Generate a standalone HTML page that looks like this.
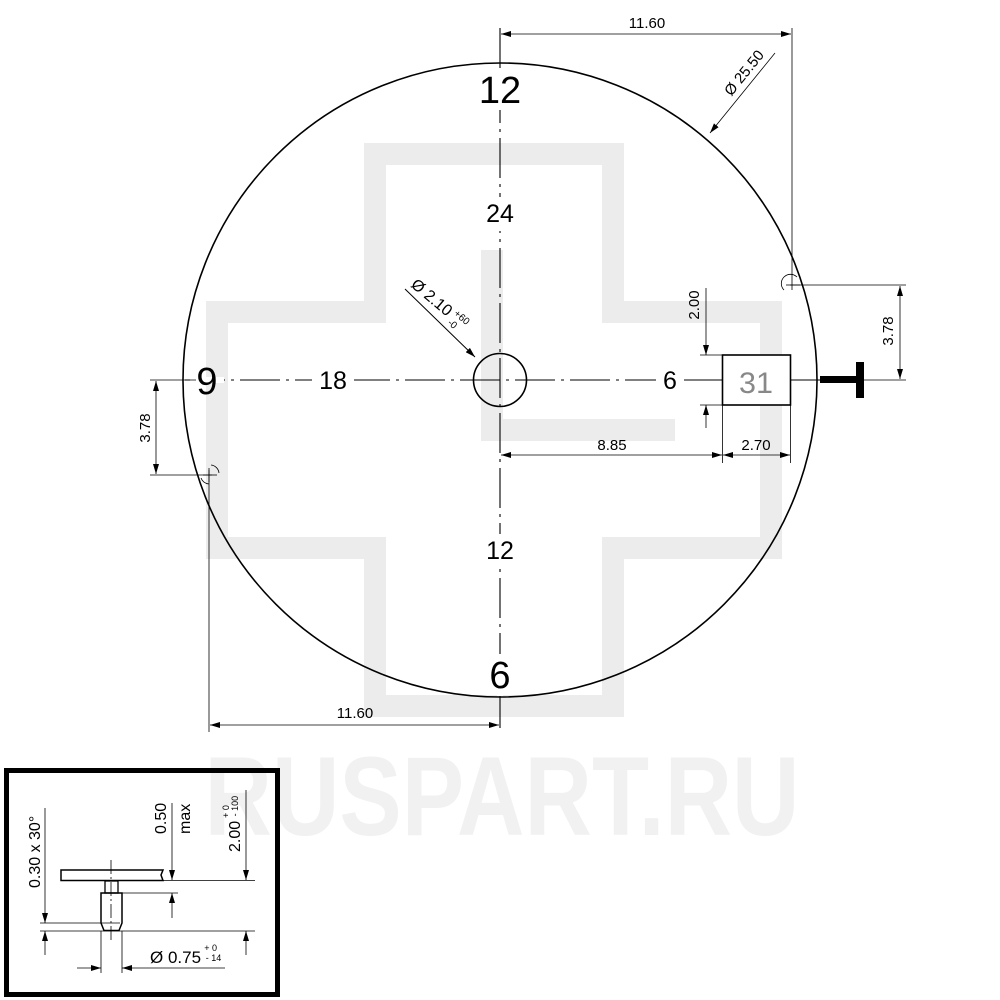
<!DOCTYPE html>
<html><head><meta charset="utf-8"><style>
html,body{margin:0;padding:0;background:#fff}
svg{display:block}
text{font-family:"Liberation Sans",Arial,sans-serif}
</style></head><body>
<svg width="1000" height="1000" viewBox="0 0 1000 1000" xmlns="http://www.w3.org/2000/svg">
<defs>
<marker id="a" viewBox="0 0 10 6" refX="10" refY="3" markerWidth="10" markerHeight="6" orient="auto-start-reverse" markerUnits="userSpaceOnUse"><path d="M0,0 L10,3 L0,6 z" fill="#000"/></marker>
</defs>
<!-- watermark -->
<g fill="none" stroke="#ececec" stroke-width="22">
<path d="M375,154 H613 V312 H771 V548 H613 V706 H375 V548 H217 V312 H375 Z"/>
<path d="M492,250 V430 H675"/>
</g>
<text x="502" y="835" font-size="112" font-weight="bold" fill="#f1f1f1" text-anchor="middle" textLength="595" lengthAdjust="spacingAndGlyphs">RUSPART.RU</text>

<!-- main circle -->
<circle cx="500" cy="380" r="317" fill="none" stroke="#000" stroke-width="1.6"/>
<!-- center lines -->
<g stroke="#000" stroke-width="1.1" stroke-dasharray="40,6,3,6">
<line x1="500" y1="28" x2="500" y2="732"/>
<line x1="185" y1="380" x2="722" y2="380"/>
</g>
<!-- label gaps (thin, only over the lines) -->
<g fill="#fff">
<rect x="497" y="70" width="6" height="40"/>
<rect x="497" y="197" width="6" height="34"/>
<rect x="497" y="534" width="6" height="34"/>
<rect x="497" y="654" width="6" height="42"/>
<rect x="190" y="377" width="34" height="6"/>
<rect x="312" y="377" width="42" height="6"/>
<rect x="656" y="377" width="28" height="6"/>
</g>
<g fill="#000" text-anchor="middle">
<text x="500" y="103" font-size="38">12</text>
<text x="500" y="222" font-size="25">24</text>
<text x="500" y="559" font-size="25">12</text>
<text x="500" y="688" font-size="38">6</text>
<text x="207" y="394" font-size="38">9</text>
<text x="333" y="389" font-size="25">18</text>
<text x="670" y="389" font-size="25">6</text>
</g>
<circle cx="500" cy="380" r="26.5" fill="none" stroke="#000" stroke-width="1.6"/>
<!-- hole leader -->
<line x1="405" y1="289" x2="475" y2="357" stroke="#000" stroke-width="1" marker-end="url(#a)"/>
<text transform="translate(410,286) rotate(40)" font-size="16">Ø 2.10 <tspan font-size="10" dy="5">-0</tspan><tspan font-size="10" dx="-10" dy="-11">+60</tspan></text>

<!-- 31 box -->
<rect x="722.5" y="355" width="68" height="50" fill="#fff" stroke="#000" stroke-width="1.6"/>
<text x="756" y="393" font-size="30" fill="#888" text-anchor="middle" textLength="34" lengthAdjust="spacingAndGlyphs">31</text>
<line x1="705" y1="380" x2="722" y2="380" stroke="#000" stroke-width="1"/>
<line x1="791" y1="380" x2="820" y2="380" stroke="#000" stroke-width="1"/>
<rect x="820" y="376" width="40" height="7" fill="#000"/>
<rect x="856" y="362" width="8" height="36" fill="#000"/>

<!-- dims -->
<g stroke="#000" stroke-width="0.8" fill="none">
<line x1="500" y1="28" x2="500" y2="40"/>
<line x1="792" y1="28" x2="792" y2="290"/>
<line x1="501" y1="34" x2="791" y2="34" marker-start="url(#a)" marker-end="url(#a)"/>
<line x1="775" y1="53" x2="710" y2="133" marker-end="url(#a)"/>
<line x1="790" y1="285" x2="906" y2="285"/>
<line x1="864" y1="380" x2="906" y2="380"/>
<line x1="900" y1="286" x2="900" y2="379" marker-start="url(#a)" marker-end="url(#a)"/>
<line x1="700" y1="355" x2="722" y2="355"/>
<line x1="700" y1="405" x2="722" y2="405"/>
<line x1="706" y1="288" x2="706" y2="355" marker-end="url(#a)"/>
<line x1="706" y1="428" x2="706" y2="405" marker-end="url(#a)"/>
<line x1="722.5" y1="405" x2="722.5" y2="463"/>
<line x1="790.5" y1="405" x2="790.5" y2="463"/>
<line x1="501" y1="455" x2="722" y2="455" marker-start="url(#a)" marker-end="url(#a)"/>
<line x1="723" y1="455" x2="790" y2="455" marker-start="url(#a)" marker-end="url(#a)"/>
<line x1="150" y1="380" x2="196" y2="380"/>
<line x1="150" y1="475" x2="212" y2="475"/>
<line x1="156" y1="381" x2="156" y2="474" marker-start="url(#a)" marker-end="url(#a)"/>
<line x1="209" y1="470" x2="209" y2="732"/>
<line x1="210" y1="725" x2="499" y2="725" marker-start="url(#a)" marker-end="url(#a)"/>
<path d="M784,290 A9,9 0 0 1 797,277"/>
<line x1="786" y1="285" x2="800" y2="285"/>
<path d="M219,473 A9,9 0 0 0 211,465"/>
<path d="M201,478 A9,9 0 0 0 209,484"/>
<line x1="203" y1="475" x2="217" y2="475"/>
<line x1="209" y1="468" x2="209" y2="482"/>
</g>
<g font-size="15" fill="#000" text-anchor="middle">
<text x="647" y="28">11.60</text>
<text transform="translate(748,76) rotate(-51)">Ø 25.50</text>
<text transform="translate(893,331) rotate(-90)">3.78</text>
<text transform="translate(699,305) rotate(-90)">2.00</text>
<text x="612" y="450">8.85</text>
<text x="756" y="450">2.70</text>
<text transform="translate(150,428) rotate(-90)">3.78</text>
<text x="355" y="718">11.60</text>
</g>

<!-- detail box -->
<rect x="6.5" y="770.5" width="271" height="224" fill="none" stroke="#000" stroke-width="5"/>
<g stroke="#000" fill="none">
<path d="M61,870 H163 L161,875 L163,880.5 H61 Z" stroke-width="1.5"/>
<rect x="105" y="881" width="13" height="12" stroke-width="1.3"/>
<path d="M101,893 H122 V923 L119,930.5 H104 L101,923 Z" stroke-width="1.5"/>
<line x1="111" y1="860" x2="111" y2="940" stroke-width="0.8" stroke-dasharray="14,3,2,3"/>
<g stroke-width="0.8">
<line x1="40" y1="923" x2="120" y2="923"/>
<line x1="40" y1="931" x2="255" y2="931"/>
<line x1="163" y1="880.5" x2="255" y2="880.5"/>
<line x1="118" y1="893" x2="178" y2="893"/>
<line x1="45" y1="808" x2="45" y2="923" marker-end="url(#a)"/>
<line x1="45" y1="955" x2="45" y2="931" marker-end="url(#a)"/>
<line x1="172" y1="803" x2="172" y2="880" marker-end="url(#a)"/>
<line x1="172" y1="918" x2="172" y2="893" marker-end="url(#a)"/>
<line x1="246" y1="790" x2="246" y2="880" marker-end="url(#a)"/>
<line x1="246" y1="955" x2="246" y2="931" marker-end="url(#a)"/>
<line x1="101" y1="931" x2="101" y2="973"/>
<line x1="122" y1="931" x2="122" y2="973"/>
<line x1="77" y1="968" x2="101" y2="968" marker-end="url(#a)"/>
<line x1="225" y1="968" x2="122" y2="968" marker-end="url(#a)"/>
</g>
</g>
<g fill="#000" font-size="16">
<text transform="translate(40,888) rotate(-90)">0.30 x 30°</text>
<text transform="translate(166,834) rotate(-90)">0.50</text>
<text transform="translate(190,834) rotate(-90)">max</text>
<text transform="translate(240,852) rotate(-90)">2.00 <tspan font-size="9" dy="-2">- 100</tspan><tspan font-size="9" dx="-22" dy="-9">+ 0</tspan></text>
<text x="150" y="963" font-size="17">Ø 0.75 <tspan font-size="9" dy="-2">- 14</tspan><tspan font-size="9" dx="-17" dy="-10">+ 0</tspan></text>
</g>
</svg>
</body></html>
